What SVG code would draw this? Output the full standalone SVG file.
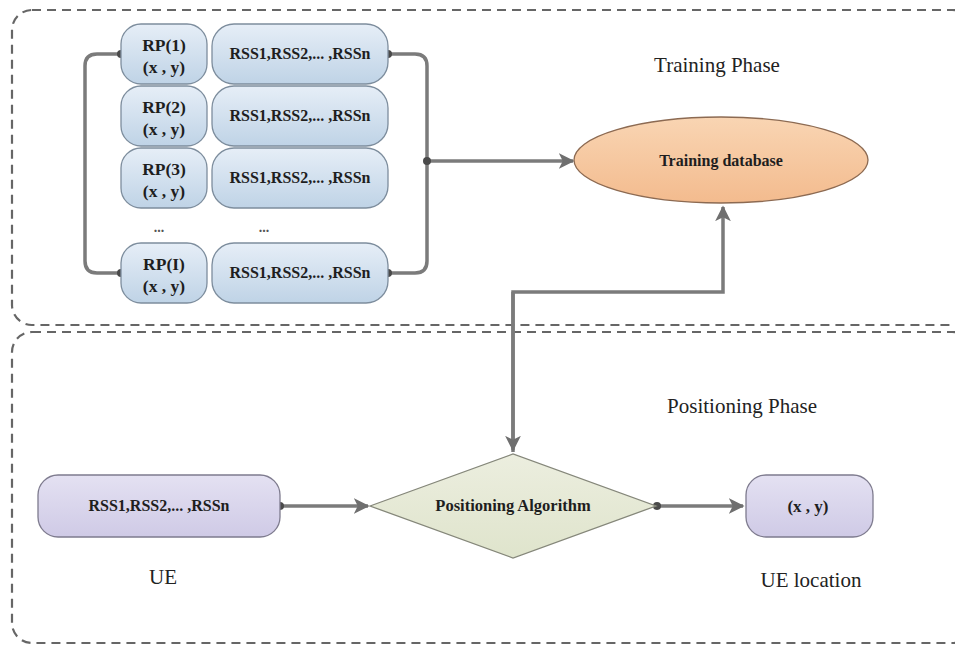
<svg xmlns="http://www.w3.org/2000/svg" width="955" height="646" viewBox="0 0 955 646">
<defs>
<linearGradient id="gBlue" x1="0" y1="0" x2="0" y2="1">
<stop offset="0" stop-color="#e6eef7"/><stop offset="1" stop-color="#bfd3e6"/>
</linearGradient>
<linearGradient id="gLav" x1="0" y1="0" x2="0" y2="1">
<stop offset="0" stop-color="#e4e1f2"/><stop offset="1" stop-color="#cfcae6"/>
</linearGradient>
<linearGradient id="gPeach" x1="0" y1="0" x2="0" y2="1">
<stop offset="0" stop-color="#f9d5b3"/><stop offset="1" stop-color="#f3bb8e"/>
</linearGradient>
<linearGradient id="gGreen" x1="0" y1="0" x2="0" y2="1">
<stop offset="0" stop-color="#eceedf"/><stop offset="1" stop-color="#dfe4cc"/>
</linearGradient>
<marker id="arr" viewBox="0 0 10 10" refX="9" refY="5" markerWidth="4.5" markerHeight="4.5" orient="auto" markerUnits="strokeWidth">
<path d="M0,0 L10,5 L0,10 L2.5,5 Z" fill="#6f6f6f"/>
</marker>
<style>
.zone{fill:none;stroke:#666;stroke-width:2.2;stroke-dasharray:9,6}
.rp{fill:url(#gBlue);stroke:#7d8d9d;stroke-width:1.3}
.lav{fill:url(#gLav);stroke:#7e7b8e;stroke-width:1.3}
.conn{fill:none;stroke:#7b7b7b;stroke-width:3.5}
.dot{fill:#4a4a4a}
.bt{font-family:"Liberation Serif","Times New Roman",serif;font-weight:bold;font-size:16px;fill:#1e1e1e;text-anchor:middle}
.rpt{font-size:17.5px}
.dots{font-family:"Liberation Serif","Times New Roman",serif;font-weight:bold;font-size:14px;fill:#555;text-anchor:middle}
.lbl{font-family:"Liberation Serif","Times New Roman",serif;font-size:21px;fill:#222;text-anchor:middle}
</style>
</defs>
<rect width="955" height="646" fill="#fff"/>
<g id="zones">
<rect class="zone" x="12" y="10" width="960" height="315" rx="20"/>
<rect class="zone" x="12" y="332" width="960" height="311" rx="20"/>
</g>
<g id="labels">
<text class="lbl" x="717" y="72">Training Phase</text>
<text class="lbl" x="742" y="413">Positioning Phase</text>
<text class="lbl" x="163" y="584">UE</text>
<text class="lbl" x="811" y="587">UE location</text>
<text class="dots" x="159" y="232">...</text>
<text class="dots" x="264" y="232">...</text>
</g>
<g id="connectors">
<path class="conn" d="M121,54 H97 Q85,54 85,66 V261 Q85,273 97,273 H121"/>
<path class="conn" d="M388,54 H415 Q427,54 427,66 V261 Q427,273 415,273 H388"/>
<path class="conn" d="M427,161 H573" marker-end="url(#arr)"/>
<path class="conn" d="M513,452 V292 H723 V207" marker-end="url(#arr)"/>
<path class="conn" d="M513,292 V450" marker-end="url(#arr)"/>
<path class="conn" d="M280,506 H368" marker-end="url(#arr)"/>
<path class="conn" d="M657,506 H743" marker-end="url(#arr)"/>
<circle class="dot" cx="121" cy="54" r="4"/>
<circle class="dot" cx="121" cy="273" r="4"/>
<circle class="dot" cx="388" cy="54" r="4"/>
<circle class="dot" cx="388" cy="273" r="4"/>
<circle class="dot" cx="427" cy="161" r="4"/>
<circle class="dot" cx="280" cy="506" r="4"/>
<circle class="dot" cx="657" cy="506" r="4"/>
</g>
<g id="rp1">
<rect class="rp" x="121" y="24" width="86" height="60" rx="20"/>
<text class="bt rpt" x="164" y="51">RP(1)</text>
<text class="bt rpt" x="164" y="73">(x , y)</text>
</g>
<g id="rss1">
<rect class="rp" x="212" y="24" width="176" height="60" rx="22"/>
<text class="bt" x="300" y="59">RSS1,RSS2,... ,RSSn</text>
</g>
<g id="rp2">
<rect class="rp" x="121" y="86" width="86" height="60" rx="20"/>
<text class="bt rpt" x="164" y="113">RP(2)</text>
<text class="bt rpt" x="164" y="135">(x , y)</text>
</g>
<g id="rss2">
<rect class="rp" x="212" y="86" width="176" height="60" rx="22"/>
<text class="bt" x="300" y="121">RSS1,RSS2,... ,RSSn</text>
</g>
<g id="rp3">
<rect class="rp" x="121" y="148" width="86" height="60" rx="20"/>
<text class="bt rpt" x="164" y="175">RP(3)</text>
<text class="bt rpt" x="164" y="197">(x , y)</text>
</g>
<g id="rss3">
<rect class="rp" x="212" y="148" width="176" height="60" rx="22"/>
<text class="bt" x="300" y="183">RSS1,RSS2,... ,RSSn</text>
</g>
<g id="rpI">
<rect class="rp" x="121" y="243" width="86" height="60" rx="20"/>
<text class="bt rpt" x="164" y="270">RP(I)</text>
<text class="bt rpt" x="164" y="292">(x , y)</text>
</g>
<g id="rssI">
<rect class="rp" x="212" y="243" width="176" height="60" rx="22"/>
<text class="bt" x="300" y="278">RSS1,RSS2,... ,RSSn</text>
</g>
<g id="training-db">
<ellipse cx="721" cy="160" rx="147" ry="43" fill="url(#gPeach)" stroke="#8c6a52" stroke-width="1.3"/>
<text class="bt" x="721" y="166">Training database</text>
</g>
<g id="positioning-algorithm">
<polygon points="370,506 513,454 656,506 513,558" fill="url(#gGreen)" stroke="#85877a" stroke-width="1.3"/>
<text class="bt" x="513" y="511" style="font-size:16.5px">Positioning Algorithm</text>
</g>
<g id="ue">
<rect class="lav" x="38" y="475" width="242" height="62" rx="20"/>
<text class="bt" x="159" y="511">RSS1,RSS2,... ,RSSn</text>
</g>
<g id="ue-location">
<rect class="lav" x="746" y="475" width="127" height="62" rx="20"/>
<text class="bt" x="808" y="512" style="font-size:17px">(x , y)</text>
</g>
</svg>
